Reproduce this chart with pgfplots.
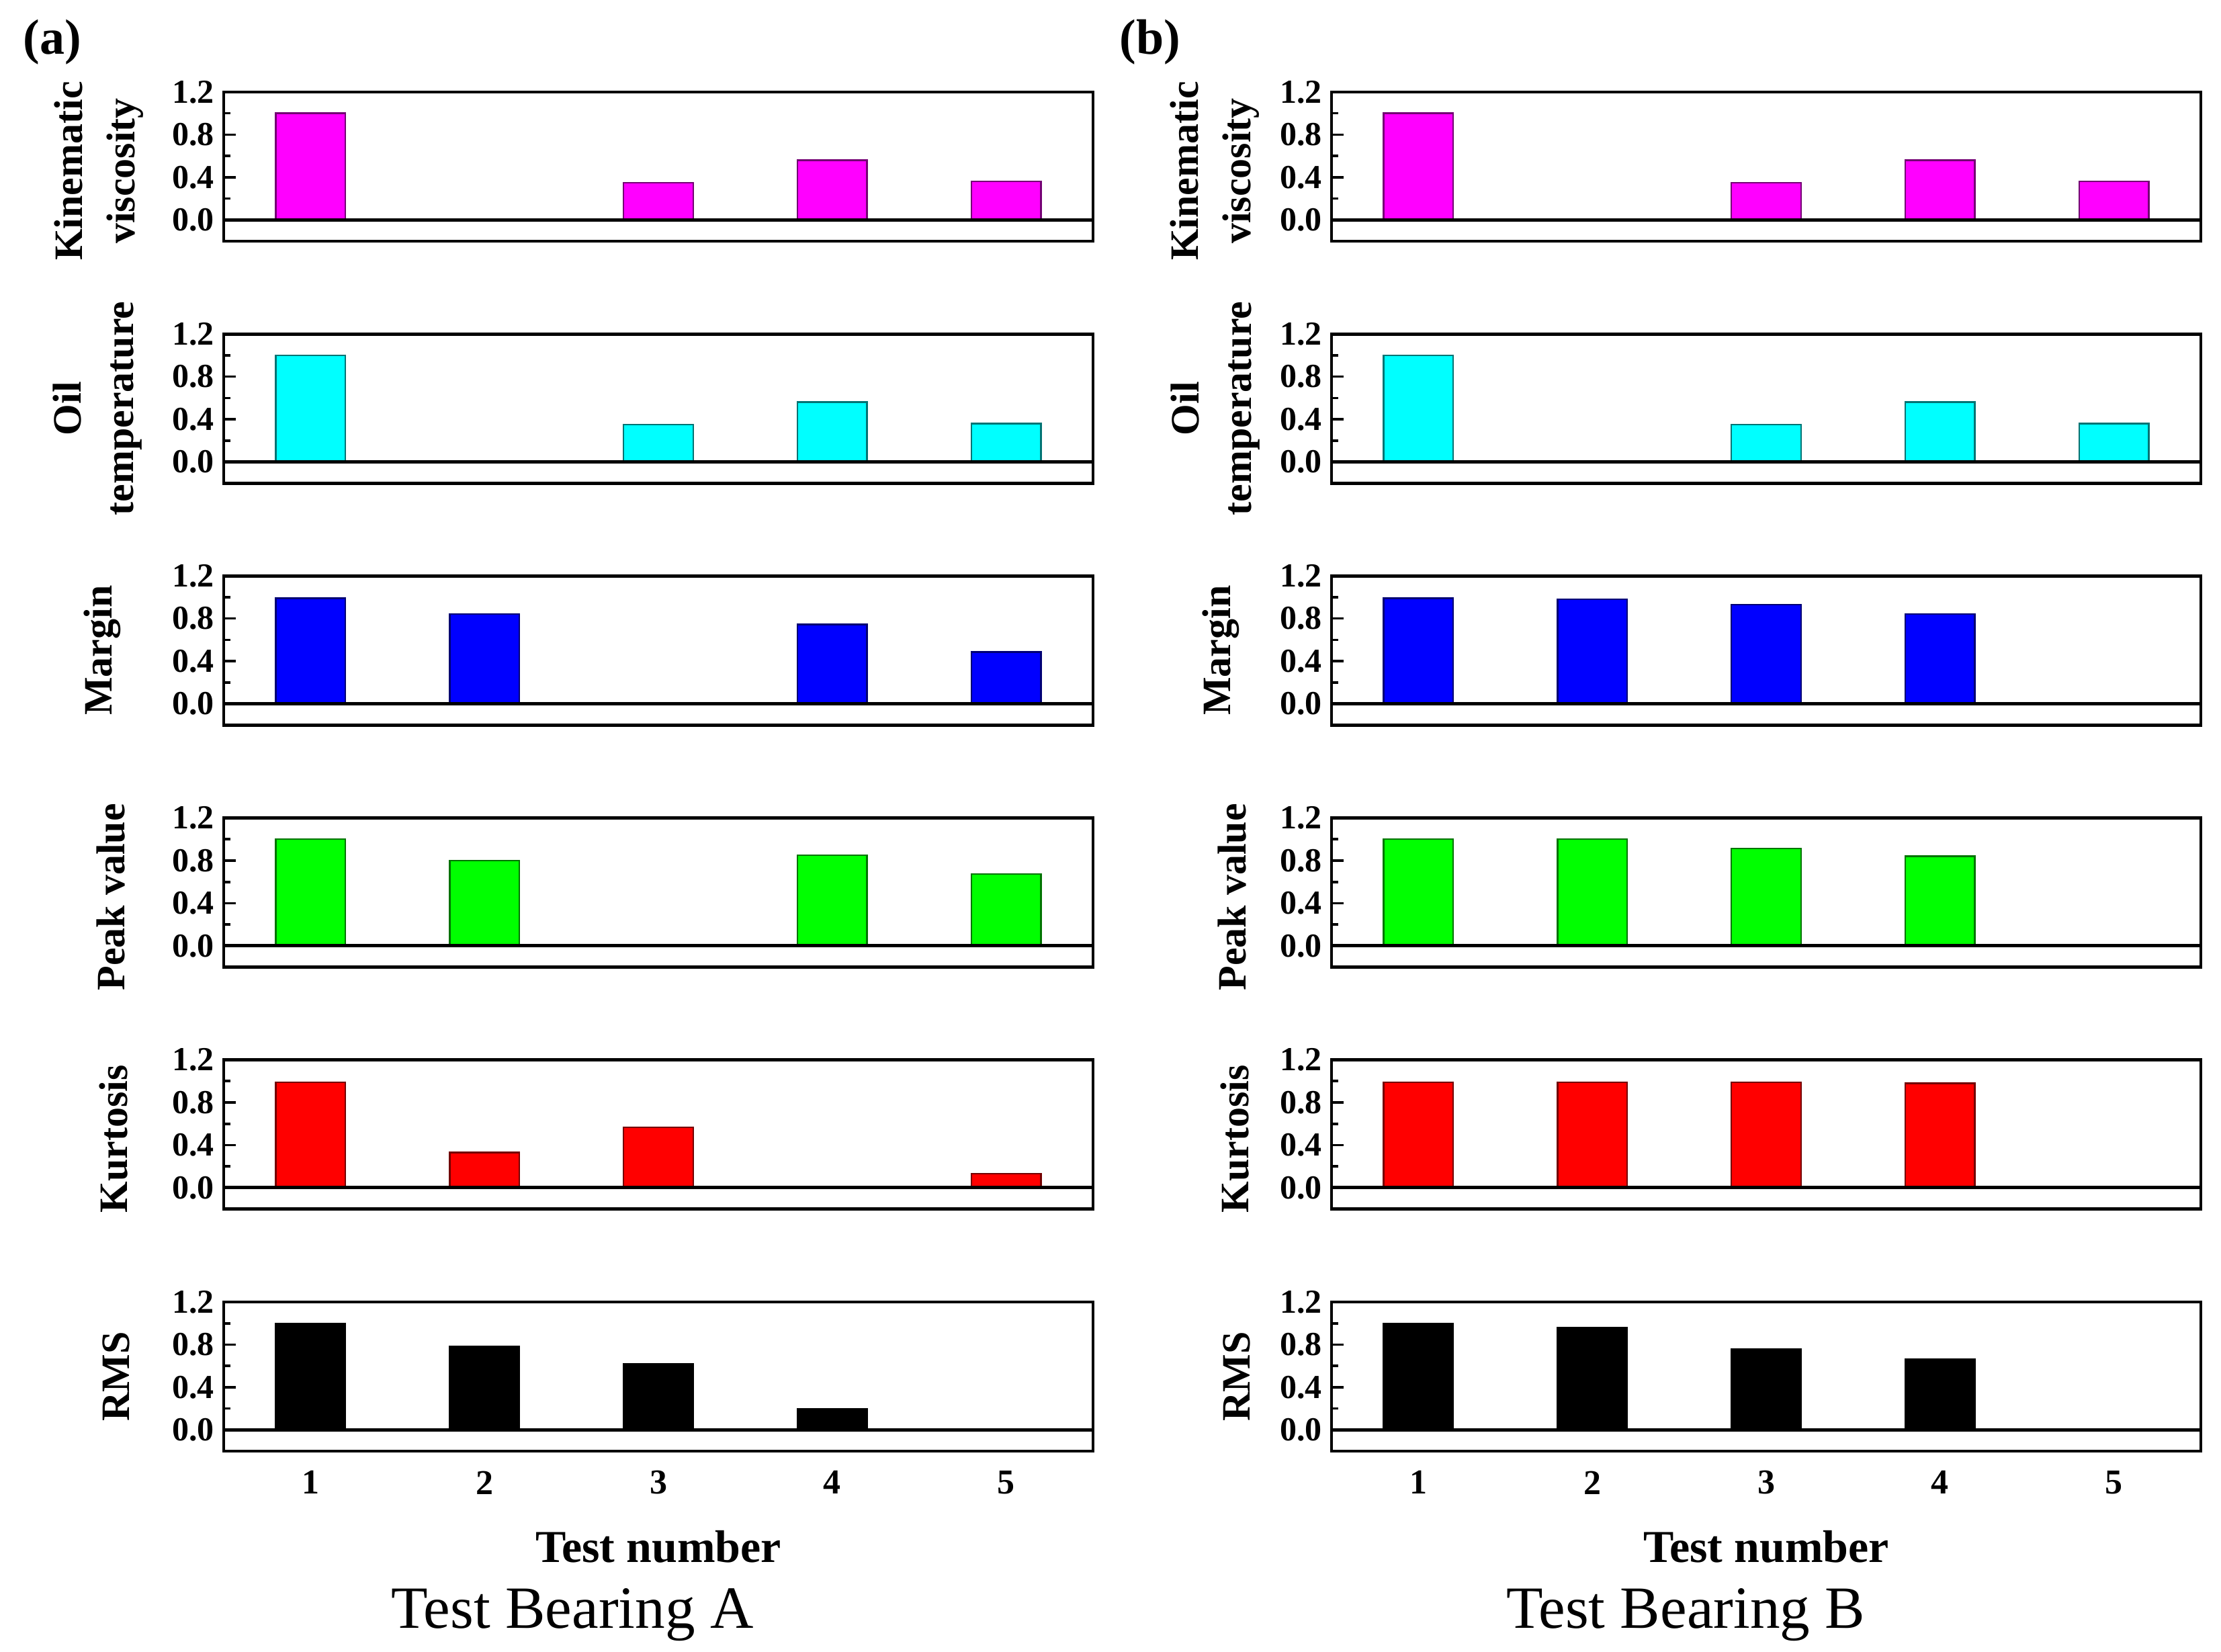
\documentclass[border=0pt]{standalone}
\usepackage{pgfplots}
\pgfplotsset{compat=1.18}
\usepackage{fontspec}
\setmainfont{Liberation Serif}
\definecolor{cMag}{RGB}{255,0,255}
\definecolor{cCyan}{RGB}{0,255,255}
\definecolor{cBlue}{RGB}{0,0,255}
\definecolor{cGreen}{RGB}{0,255,0}
\definecolor{cRed}{RGB}{255,0,0}
\pgfplotsset{
  panel/.style={
    scale only axis, width=323.5pt, height=55.5pt, anchor=north west,
    xmin=0.5, xmax=5.5, ymin=-0.2, ymax=1.2,
    ytick={0,0.4,0.8,1.2}, minor ytick={0.2,0.6,1.0},
    xtick={1,2,3,4,5}, ytick pos=left, tick align=inside,
    major tick length=4.5pt, minor tick length=2.5pt,
    axis line style={line width=1.2pt},
    every tick/.style={black, line width=0.9pt},
    major x tick style={draw=none},
    xticklabels={},
    yticklabel style={/pgf/number format/fixed, /pgf/number format/fixed zerofill,
      /pgf/number format/precision=1, /pgf/number format/assume math mode=true,
      font=\bfseries\fontsize{12.5}{13}\selectfont},
    bar width=0.4,
    ylabel style={font=\bfseries\fontsize{15}{19.5}\selectfont, align=center, anchor=center},
  },
  bottompanel/.style={
    xticklabels={1,2,3,4,5},
    xticklabel style={font=\bfseries\fontsize{13}{14}\selectfont, anchor=center, yshift=-11.7pt},
    xlabel={Test number},
    xlabel style={font=\bfseries\fontsize{17}{19}\selectfont, at={(axis description cs:0.5,0)}, anchor=center, yshift=-35.5pt},
  },
  barA/.style={ybar, fill=#1, draw=#1!45!black, line width=0.6pt},
  zline/.style={black, line width=1.2pt, no marks},
}
\begin{document}
\begin{tikzpicture}
\useasboundingbox (0,0) rectangle (826.5pt,614.75pt);
\node[font=\bfseries\fontsize{18.5}{20}\selectfont] at (19.5pt,598.95pt) {(a)};
\node[font=\bfseries\fontsize{18.5}{20}\selectfont] at (428pt,598.95pt) {(b)};
\node[font=\fontsize{22.3}{24}\selectfont] at (213pt,13.8pt) {Test Bearing A};
\node[font=\fontsize{22.3}{24}\selectfont] at (627.3pt,13.8pt) {Test Bearing B};

% ---------- Column A ----------
\begin{axis}[panel, at={(83.25pt,580.5pt)}, ylabel={Kinematic\\viscosity},
  ylabel style={at={(axis description cs:-0.144,0.47)}}]
\addplot[barA=cMag] coordinates {(1,1.0) (3,0.35) (4,0.56) (5,0.36)};
\addplot[zline] coordinates {(0.5,0) (5.5,0)};
\end{axis}
\begin{axis}[panel, at={(83.25pt,490.45pt)}, ylabel={Oil\\temperature},
  ylabel style={at={(axis description cs:-0.145,0.5)}}]
\addplot[barA=cCyan] coordinates {(1,1.0) (3,0.35) (4,0.56) (5,0.36)};
\addplot[zline] coordinates {(0.5,0) (5.5,0)};
\end{axis}
\begin{axis}[panel, at={(83.25pt,400.45pt)}, ylabel={Margin},
  ylabel style={at={(axis description cs:-0.140,0.5)}}]
\addplot[barA=cBlue] coordinates {(1,0.99) (2,0.84) (4,0.745) (5,0.485)};
\addplot[zline] coordinates {(0.5,0) (5.5,0)};
\end{axis}
\begin{axis}[panel, at={(83.25pt,310.35pt)}, ylabel={Peak value},
  ylabel style={at={(axis description cs:-0.130,0.47)}}]
\addplot[barA=cGreen] coordinates {(1,1.0) (2,0.80) (4,0.85) (5,0.675)};
\addplot[zline] coordinates {(0.5,0) (5.5,0)};
\end{axis}
\begin{axis}[panel, at={(83.25pt,220.35pt)}, ylabel={Kurtosis},
  ylabel style={at={(axis description cs:-0.127,0.47)}}]
\addplot[barA=cRed] coordinates {(1,0.99) (2,0.33) (3,0.565) (5,0.13)};
\addplot[zline] coordinates {(0.5,0) (5.5,0)};
\end{axis}
\begin{axis}[panel, bottompanel, at={(83.25pt,130.25pt)}, ylabel={RMS},
  ylabel style={at={(axis description cs:-0.124,0.5)}}]
\addplot[ybar, fill=black, draw=black, line width=0.6pt] coordinates {(1,1.0) (2,0.78) (3,0.62) (4,0.195)};
\addplot[zline] coordinates {(0.5,0) (5.5,0)};
\end{axis}

% ---------- Column B ----------
\begin{axis}[panel, at={(495.5pt,580.5pt)}, ylabel={Kinematic\\viscosity},
  ylabel style={at={(axis description cs:-0.134,0.47)}}]
\addplot[barA=cMag] coordinates {(1,1.0) (3,0.35) (4,0.56) (5,0.36)};
\addplot[zline] coordinates {(0.5,0) (5.5,0)};
\end{axis}
\begin{axis}[panel, at={(495.5pt,490.45pt)}, ylabel={Oil\\temperature},
  ylabel style={at={(axis description cs:-0.134,0.5)}}]
\addplot[barA=cCyan] coordinates {(1,1.0) (3,0.35) (4,0.56) (5,0.36)};
\addplot[zline] coordinates {(0.5,0) (5.5,0)};
\end{axis}
\begin{axis}[panel, at={(495.5pt,400.45pt)}, ylabel={Margin},
  ylabel style={at={(axis description cs:-0.127,0.5)}}]
\addplot[barA=cBlue] coordinates {(1,0.99) (2,0.98) (3,0.93) (4,0.84)};
\addplot[zline] coordinates {(0.5,0) (5.5,0)};
\end{axis}
\begin{axis}[panel, at={(495.5pt,310.35pt)}, ylabel={Peak value},
  ylabel style={at={(axis description cs:-0.114,0.47)}}]
\addplot[barA=cGreen] coordinates {(1,1.0) (2,1.0) (3,0.915) (4,0.84)};
\addplot[zline] coordinates {(0.5,0) (5.5,0)};
\end{axis}
\begin{axis}[panel, at={(495.5pt,220.35pt)}, ylabel={Kurtosis},
  ylabel style={at={(axis description cs:-0.111,0.47)}}]
\addplot[barA=cRed] coordinates {(1,0.99) (2,0.99) (3,0.99) (4,0.98)};
\addplot[zline] coordinates {(0.5,0) (5.5,0)};
\end{axis}
\begin{axis}[panel, bottompanel, at={(495.5pt,130.25pt)}, ylabel={RMS},
  ylabel style={at={(axis description cs:-0.109,0.5)}}]
\addplot[ybar, fill=black, draw=black, line width=0.6pt] coordinates {(1,1.0) (2,0.96) (3,0.76) (4,0.66)};
\addplot[zline] coordinates {(0.5,0) (5.5,0)};
\end{axis}
\end{tikzpicture}
\end{document}
